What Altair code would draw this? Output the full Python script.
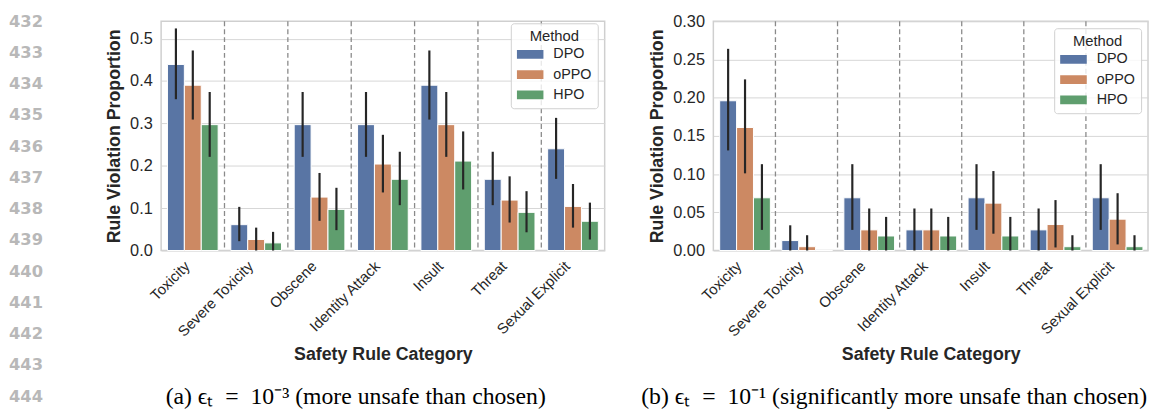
import altair as alt
import pandas as pd

categories = ["Toxicity", "Severe Toxicity", "Obscene", "Identity Attack",
              "Insult", "Threat", "Sexual Explicit"]
methods = ["DPO", "oPPO", "HPO"]
method_colors = ["#5975a4", "#cc8963", "#5f9e6e"]

# ---- panel (a): eps_t = 1e-3 ----
a_dpo = [0.439, 0.061, 0.297, 0.297, 0.390, 0.168, 0.240]
a_dpo_lo = [0.357, 0.022, 0.221, 0.221, 0.309, 0.107, 0.169]
a_dpo_hi = [0.524, 0.103, 0.374, 0.374, 0.472, 0.233, 0.313]
a_oppo = [0.390, 0.026, 0.126, 0.204, 0.297, 0.119, 0.104]
a_oppo_lo = [0.309, 0.000, 0.070, 0.137, 0.221, 0.066, 0.054]
a_oppo_hi = [0.472, 0.054, 0.183, 0.273, 0.374, 0.175, 0.157]
a_hpo = [0.297, 0.018, 0.097, 0.168, 0.211, 0.090, 0.069]
a_hpo_lo = [0.221, 0.000, 0.048, 0.107, 0.144, 0.043, 0.026]
a_hpo_hi = [0.374, 0.044, 0.148, 0.233, 0.281, 0.140, 0.113]

# ---- panel (b): eps_t = 1e-1 ----
b_dpo = [0.196, 0.013, 0.069, 0.027, 0.069, 0.027, 0.069]
b_dpo_lo = [0.131, 0.000, 0.027, 0.000, 0.027, 0.000, 0.027]
b_dpo_hi = [0.264, 0.033, 0.113, 0.055, 0.113, 0.055, 0.113]
b_oppo = [0.161, 0.005, 0.027, 0.027, 0.062, 0.034, 0.041]
b_oppo_lo = [0.101, 0.000, 0.000, 0.000, 0.022, 0.004, 0.008]
b_oppo_hi = [0.224, 0.020, 0.055, 0.055, 0.104, 0.066, 0.075]
b_hpo = [0.069, 0.000, 0.019, 0.019, 0.019, 0.005, 0.005]
b_hpo_lo = [0.027, 0.000, 0.000, 0.000, 0.000, 0.000, 0.000]
b_hpo_hi = [0.113, 0.000, 0.044, 0.044, 0.044, 0.020, 0.020]

y_ticks_a = [0.0, 0.1, 0.2, 0.3, 0.4, 0.5]
y_ticks_b = [0.0, 0.05, 0.10, 0.15, 0.20, 0.25, 0.30]
line_numbers = list(range(432, 445))
caption_a = "(a) \u03f5\u209c\u2002=\u200210\u207b\u00b3 (more unsafe than chosen)"
caption_b = "(b) \u03f5\u209c\u2002=\u200210\u207b\u00b9 (significantly more unsafe than chosen)"

FONT = "Liberation Sans"
TEXT = "#262626"


def frame(vals, los, his):
    rows = []
    for m, v, lo, hi in zip(methods, vals, los, his):
        for c, vv, ll, hh in zip(categories, v, lo, hi):
            rows.append({"category": c, "method": m, "value": vv, "lo": ll, "hi": hh})
    return pd.DataFrame(rows)


df_a = frame([a_dpo, a_oppo, a_hpo], [a_dpo_lo, a_oppo_lo, a_hpo_lo], [a_dpo_hi, a_oppo_hi, a_hpo_hi])
df_b = frame([b_dpo, b_oppo, b_hpo], [b_dpo_lo, b_oppo_lo, b_hpo_lo], [b_dpo_hi, b_oppo_hi, b_hpo_hi])
sep_df = pd.DataFrame({"category": categories[1:]})
ln_df = pd.DataFrame({"ln": line_numbers})


def panel(df, ymax, ticks, fmt, w, h, caption, cap_dx, cap_offset, legend, with_lines):
    x_scale = alt.Scale(domain=categories, paddingInner=0, paddingOuter=0)
    x_axis = alt.Axis(title="Safety Rule Category", titleX=w / 2, titleY=105,
                      titleBaseline="middle")
    y_scale = alt.Scale(domain=[0, ymax], nice=False, zero=True)
    y_axis = alt.Axis(values=ticks, format=fmt, title="Rule Violation Proportion")
    xoff = alt.XOffset("method:N", sort=methods,
                       scale=alt.Scale(domain=methods, paddingInner=0, paddingOuter=0.375))

    seps = alt.Chart(sep_df).mark_rule(strokeDash=[5, 3], color="#8a8a8a", strokeWidth=1.3).encode(
        x=alt.X("category:N", sort=categories, scale=x_scale, axis=x_axis, bandPosition=0)
    )
    bars = alt.Chart(df).mark_bar(stroke="white", strokeWidth=1).encode(
        x=alt.X("category:N", sort=categories, scale=x_scale, axis=x_axis),
        xOffset=xoff,
        y=alt.Y("value:Q", scale=y_scale, axis=y_axis),
        color=alt.Color("method:N", sort=methods,
                        scale=alt.Scale(domain=methods, range=method_colors),
                        legend=legend),
    )
    err = alt.Chart(df).mark_rule(color="#262626", strokeWidth=2.2).encode(
        x=alt.X("category:N", sort=categories, scale=x_scale, axis=x_axis),
        xOffset=xoff,
        y=alt.Y("lo:Q", scale=y_scale, axis=y_axis),
        y2="hi:Q",
    )
    main = alt.layer(seps, bars, err)
    if with_lines:
        lines = alt.Chart(ln_df).mark_text(
            align="left", baseline="middle", font="DejaVu Sans", fontWeight="bold",
            fontSize=16.5, color="#b8b8b8"
        ).encode(
            x=alt.value(-154),
            y=alt.Y("ln:Q", scale=alt.Scale(domain=[432, 444], range=[0.3, 380]), axis=None),
            text="ln:N",
        )
        main = alt.layer(main, lines).resolve_scale(y="independent")
    return main.properties(
        width=w, height=h,
        title=alt.TitleParams(text=caption, orient="bottom", anchor="middle", frame="group",
                              dx=cap_dx, offset=cap_offset),
    )


SYM = "M-1,-0.333H1V0.333H-1Z"
legend_a = alt.Legend(title="Method", symbolType=SYM, symbolSize=729,
                      orient="none", legendX=354, legendY=2)
legend_b = alt.Legend(title="Method", symbolType=SYM, symbolSize=729,
                      orient="top-right", offset=7)

pa = panel(df_a, 0.5408, y_ticks_a, ".1f", 449, 232, caption_a, -27.5, -20, legend_a, True)
pb = panel(df_b, 0.30, y_ticks_b, ".2f", 440, 232, caption_b, -37, 22, legend_b, False)

chart = alt.hconcat(pa, pb, spacing=35).resolve_scale(
    color="independent"
).resolve_legend(color="independent").properties(
    padding={"left": 0, "top": 2, "right": 0, "bottom": 0}
).configure_view(
    stroke="#cfcfcf", strokeWidth=1.5
).configure_axis(
    labelFont=FONT, titleFont=FONT, labelColor=TEXT, titleColor=TEXT,
    domain=False, ticks=False, tickSize=0, gridColor="#d6d6d6", gridWidth=1,
    labelOverlap=False,
).configure_axisY(
    grid=True, labelFontSize=16.5, labelPadding=9, titleFontSize=18,
    titleFontWeight="bold", titlePadding=6,
).configure_axisX(
    grid=False, labelFontSize=15, labelAngle=-45, labelAlign="right", labelBaseline="top",
    labelOffset=-10.5, labelPadding=8, titleFontSize=18, titleFontWeight="bold",
).configure_legend(
    padding=6, fillColor="rgba(255,255,255,0.8)",
    strokeColor="#d0d0d0", cornerRadius=3, titleFont=FONT, labelFont=FONT,
    titleFontSize=15, labelFontSize=14.5, titleFontWeight="normal", titleColor=TEXT,
    labelColor=TEXT, titleAnchor="middle", titlePadding=3, symbolStrokeWidth=0,
    symbolOpacity=1, clipHeight=15, rowPadding=4.5, labelOffset=10,
).configure_title(
    font="Liberation Serif", fontSize=24, fontWeight="normal", color="black",
)

chart.save("out.html", embed_options={"renderer": "svg", "actions": False})
